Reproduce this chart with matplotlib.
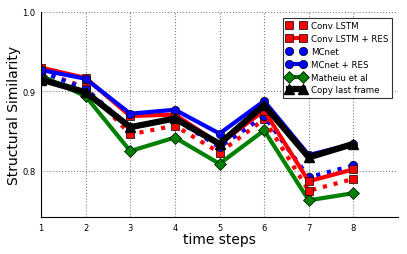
import numpy as np
import matplotlib
matplotlib.use('Agg')
import matplotlib.pyplot as plt

steps = [1, 2, 3, 4, 5, 6, 7, 8]
conv_lstm = [0.925, 0.905, 0.846, 0.857, 0.823, 0.865, 0.775, 0.790]
conv_lstm_res = [0.930, 0.917, 0.869, 0.871, 0.834, 0.876, 0.787, 0.802]
mcnet = [0.925, 0.903, 0.855, 0.865, 0.830, 0.869, 0.792, 0.807]
mcnet_res = [0.927, 0.916, 0.872, 0.877, 0.847, 0.888, 0.820, 0.834]
matheiu = [0.920, 0.894, 0.825, 0.842, 0.809, 0.851, 0.763, 0.772]
copy_last = [0.915, 0.899, 0.855, 0.866, 0.834, 0.883, 0.817, 0.834]

fig = plt.figure(figsize=(4.07, 2.55), dpi=100)
ax = fig.add_axes([41/407, 1 - 218/255, 357/407, 205/255])

ax.plot(steps, copy_last, '-^', color='k', lw=4.5, ms=7, mec='k',
        label='Copy last frame', zorder=3)
ax.plot(steps, matheiu, '-D', color='green', lw=3, ms=6, mec='k', mew=0.5,
        label='Matheiu et al', zorder=2)
ax.plot(steps, conv_lstm, ':s', color='red', lw=3, ms=6, mec='k', mew=0.5,
        label='Conv LSTM', zorder=2)
ax.plot(steps, mcnet, ':o', color='blue', lw=3, ms=6, mec='k', mew=0.5,
        label='MCnet', zorder=2)
ax.plot(steps, conv_lstm_res, '-s', color='red', lw=3, ms=6, mec='k', mew=0.5,
        label='Conv LSTM + RES', zorder=2)
ax.plot(steps, mcnet_res, '-o', color='blue', lw=3, ms=6, mec='k', mew=0.5,
        label='MCnet + RES', zorder=2)

ax.set_xlim(1, 9)
ax.set_ylim(0.742, 1.0)
ax.set_xticks(steps)
ax.set_yticks([0.8, 0.9, 1.0])
ax.tick_params(labelsize=6, length=0, pad=4)
ax.grid(True, ls=':', color='gray', lw=0.8)
ax.set_axisbelow(True)
ax.spines['top'].set_visible(False)
ax.spines['right'].set_visible(False)
ax.set_xlabel('time steps', fontsize=10, labelpad=0)
ax.set_ylabel('Structural Similarity', fontsize=10, labelpad=0.5)

h, l = ax.get_legend_handles_labels()
order = ['Conv LSTM', 'Conv LSTM + RES', 'MCnet', 'MCnet + RES',
         'Matheiu et al', 'Copy last frame']
hh = [h[l.index(o)] for o in order]
leg = ax.legend(hh, order, loc='upper right', fontsize=6.2, numpoints=2,
                fancybox=False, framealpha=1, edgecolor='#333333',
                handlelength=2.2, handletextpad=0.6, labelspacing=0.45,
                borderaxespad=0.3, bbox_to_anchor=(0.99, 0.985))
leg.get_frame().set_linewidth(0.8)

fig.savefig('out.png', dpi=100)
